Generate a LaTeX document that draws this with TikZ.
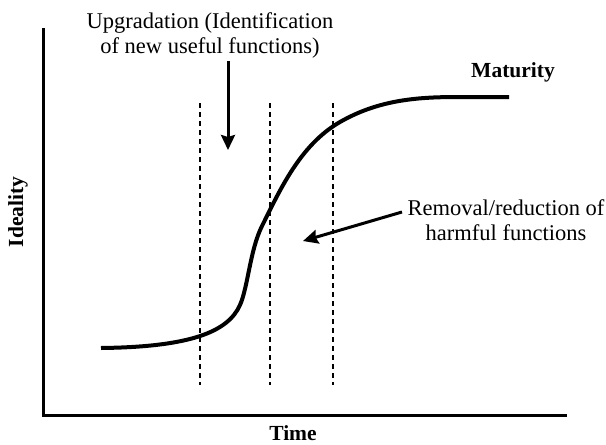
\documentclass[tikz,border=0pt]{standalone}
\usepackage{fontspec}
\setmainfont{Liberation Serif}
\usetikzlibrary{arrows.meta, positioning}
\tikzstyle{note} = [align=center, inner sep=0pt, font=\fontsize{22.5}{25}\selectfont]
\tikzstyle{heading} = [inner sep=0pt, font=\bfseries\fontsize{21.5}{24}\selectfont]
\tikzstyle{axis} = [line width=3pt]
\tikzstyle{curve} = [line width=4pt]
\tikzstyle{guide} = [line width=1.2pt, dash pattern=on 5pt off 4pt]
\tikzstyle{arrow} = [line width=3pt,-{Stealth[length=15pt,width=14pt,inset=2pt]}]

\begin{document}
\begin{tikzpicture}[x=1pt, y=-1pt]
\useasboundingbox (0,0) rectangle (606,445);

% axes
\coordinate (ytop) at (43,28);
\coordinate (origin) at (43,415);
\coordinate (xend) at (567,415);
\draw[axis] (ytop) -- (origin) -- (xend);
\node [heading, rotate=90] (ideality) at (18,212) {Ideality};
\node [heading] (time) at (293,433) {Time};

% phase borders
\foreach \x in {200,270,333}
  \draw[guide] (\x,103) -- (\x,385);

% s-curve
\draw[curve] (101,348) .. controls (190,347) and (228,332) .. (240,305)
  .. controls (248,287) and (250,250) .. (262,226)
  .. controls (280,190) and (300,145) .. (340,122)
  .. controls (380,99) and (420,97) .. (460,97) -- (509,97);
\node [heading] (maturity) at (513,72) {Maturity};

% notes
\node [note] (upgrade) at (210,35) {Upgradation (Identification\\of new useful functions)};
\node [note] (removal) at (506,220) {Removal/reduction of\\harmful functions};
\coordinate (upgradetail) at (228,61);
\coordinate (upgradetip) at (228,150);
\coordinate (removaltail) at (402,212);
\coordinate (removaltip) at (303,241);
\draw[arrow] (upgradetail) -- (upgradetip);
\draw[arrow] (removaltail) -- (removaltip);

\end{tikzpicture}
\end{document}
